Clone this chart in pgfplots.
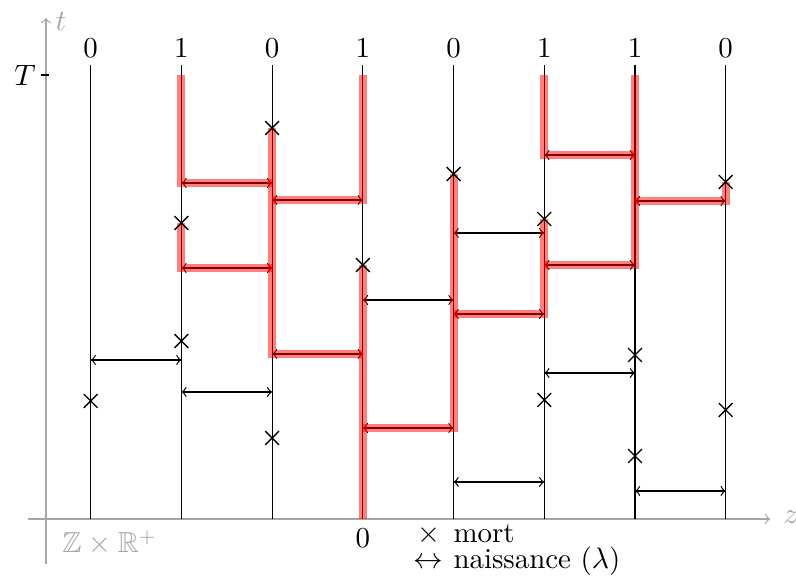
\documentclass[border=0pt]{standalone}
\usepackage{amssymb}
\usepackage{pgfplots}
\pgfplotsset{compat=1.18}
\begin{document}
\begin{tikzpicture}
\fontsize{10.7}{12.8}\selectfont
\begin{axis}[
  hide axis, clip=false,
  x=33.6pt, y=0.37037pt,
  xmin=0, xmax=8.775, ymin=-61, ymax=519,
]
\coordinate (BL) at (axis cs:0,-61);
\coordinate (TR) at (axis cs:8.775,519);
% gray axes
\addplot[black!35, line width=0.45pt, ->] coordinates {(0.31,0)(8.49,0)};
\addplot[black!35, line width=0.45pt, ->] coordinates {(0.507,-45)(0.507,501)};
\node[text=black!35, inner sep=0pt] at (axis cs:0.672,498) {$t$};
\node[text=black!35, inner sep=0pt] at (axis cs:8.72,2) {$z$};
\addplot[black, line width=0.5pt] coordinates {(0.449,444)(0.535,444)};
\node[inner sep=0pt] at (axis cs:0.276,444) {$T$};
% columns
\addplot[black, line width=0.45pt] coordinates {(1,0)(1,454)};
\addplot[black, line width=0.45pt] coordinates {(2,0)(2,454)};
\addplot[black, line width=0.45pt] coordinates {(3,0)(3,454)};
\addplot[black, line width=0.45pt] coordinates {(4,0)(4,454)};
\addplot[black, line width=0.45pt] coordinates {(5,0)(5,454)};
\addplot[black, line width=0.45pt] coordinates {(6,0)(6,454)};
\addplot[black, line width=0.45pt] coordinates {(7,0)(7,454)};
\addplot[black, line width=0.45pt] coordinates {(8,0)(8,454)};
% top labels
\node[inner sep=0pt] at (axis cs:1,471) {0};
\node[inner sep=0pt] at (axis cs:2,471) {1};
\node[inner sep=0pt] at (axis cs:3,471) {0};
\node[inner sep=0pt] at (axis cs:4,471) {1};
\node[inner sep=0pt] at (axis cs:5,471) {0};
\node[inner sep=0pt] at (axis cs:6,471) {1};
\node[inner sep=0pt] at (axis cs:7,471) {1};
\node[inner sep=0pt] at (axis cs:8,471) {0};
% deaths
\addplot[only marks, mark=x, mark size=3.6pt, black, mark options={line width=0.5pt}] coordinates {
 (1,118) (2,296) (2,178) (3,391) (3,81) (4,254) (5,345)
 (6,300) (6,119) (7,164) (7,63) (8,337) (8,109)};
% births
\addplot[black, line width=0.45pt, <->] coordinates {(1,159)(2,159)};
\addplot[black, line width=0.45pt, <->] coordinates {(2,127)(3,127)};
\addplot[black, line width=0.45pt, <->] coordinates {(4,219)(5,219)};
\addplot[black, line width=0.45pt, <->] coordinates {(5,286)(6,286)};
\addplot[black, line width=0.45pt, <->] coordinates {(5,37)(6,37)};
\addplot[black, line width=0.45pt, <->] coordinates {(6,146)(7,146)};
\addplot[black, line width=0.45pt, <->] coordinates {(7,28)(8,28)};
\addplot[black, line width=0.45pt, <->] coordinates {(2,336)(3,336)};
\addplot[black, line width=0.45pt, <->] coordinates {(2,251)(3,251)};
\addplot[black, line width=0.45pt, <->] coordinates {(3,319)(4,319)};
\addplot[black, line width=0.45pt, <->] coordinates {(3,165)(4,165)};
\addplot[black, line width=0.45pt, <->] coordinates {(4,91)(5,91)};
\addplot[black, line width=0.45pt, <->] coordinates {(5,205)(6,205)};
\addplot[black, line width=0.45pt, <->] coordinates {(6,364)(7,364)};
\addplot[black, line width=0.45pt, <->] coordinates {(6,254)(7,254)};
\addplot[black, line width=0.45pt, <->] coordinates {(7,318)(8,318)};
% infection paths
\addplot[red, opacity=0.5, line width=3pt] coordinates {(2,444)(2,336)(3,336)};
\addplot[red, opacity=0.5, line width=3pt] coordinates {(4,444)(4,319)(3,319)};
\addplot[red, opacity=0.5, line width=3pt] coordinates {(3,391)(3,165)(4,165)};
\addplot[red, opacity=0.5, line width=3pt] coordinates {(2,296)(2,251)(3,251)};
\addplot[red, opacity=0.5, line width=3pt] coordinates {(4,254)(4,0)};
\addplot[red, opacity=0.5, line width=3pt] coordinates {(5,345)(5,91)(4,91)};
\addplot[red, opacity=0.5, line width=3pt] coordinates {(5,205)(6,205)(6,300)};
\addplot[red, opacity=0.5, line width=3pt] coordinates {(6,254)(7,254)(7,444)};
\addplot[red, opacity=0.5, line width=3pt] coordinates {(6,444)(6,364)(7,364)};
\addplot[red, opacity=0.5, line width=3pt] coordinates {(7,318)(8,318)(8,337)};
% bottom labels
\node[inner sep=0pt] at (axis cs:4,-19) {0};
\node[anchor=base west, text=black!35, inner sep=0pt] at (axis cs:0.683,-34) {$\mathbb{Z}\times\mathbb{R}^+$};
\node[anchor=base, inner sep=0pt] at (axis cs:4.73,-24) {$\times$};
\node[anchor=base west, inner sep=0pt] at (axis cs:4.994,-24) {mort};
\node[anchor=base, inner sep=0pt] at (axis cs:4.72,-50) {$\leftrightarrow$};
\node[anchor=base west, inner sep=0pt] at (axis cs:4.994,-50) {naissance ($\lambda$)};
\end{axis}
\pgfresetboundingbox
\useasboundingbox (BL) rectangle (TR);
\end{tikzpicture}
\end{document}
